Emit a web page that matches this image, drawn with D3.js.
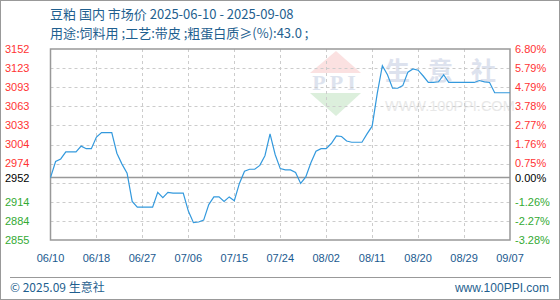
<!DOCTYPE html>
<html><head><meta charset="utf-8">
<script src="https://cdn.jsdelivr.net/npm/d3@7/dist/d3.min.js"></script>
<style>body{margin:0;background:#fff}svg{display:block}</style>
</head><body>
<script>
// ---- data ----
const titleLine1 = "豆粕 国内 市场价 2025-06-10 - 2025-09-08";
const titleLine2 = "用途:饲料用 ;工艺:带皮 ;粗蛋白质≥(%):43.0 ;";
const xLabels = ["06/10","06/18","06/27","07/06","07/15","07/24","08/02","08/11","08/20","08/29","09/07"];
const xLabelIdx = [0,9,18,27,36,45,54,63,72,81,90];
const leftTicks = [3152,3123,3093,3063,3033,3004,2974,2952,2914,2884,2855];
const rightTicks = ["6.80%","5.79%","4.79%","3.78%","2.77%","1.76%","0.75%","0.00%","-1.26%","-2.27%","-3.28%"];
const baseValue = 2952;
const prices = [
 2952,2977,2981,2992,2992,2992,3001,2997,2997,3015,
 3022,3022,3022,2990,2973,2959,2915,2906,2906,2906,
 2906,2929,2921,2929,2928,2928,2928,2900,2882,2883,
 2886,2910,2922,2922,2915,2922,2916,2943,2962,2965,
 2965,2971,2986,3020,2988,2966,2964,2964,2960,2943,
 2953,2975,2993,2997,2997,3005,3017,3016,3009,3007,
 3007,3007,3020,3032,3083,3126,3112,3091,3091,3095,
 3116,3121,3119,3110,3100,3100,3101,3112,3100,3100,
 3100,3100,3100,3100,3103,3101,3100,3084,3084,3084,3084
];

const W=560,H=300;
const L=50.5,R=510,T=49,B=240;
const svg=d3.select("body").append("svg").attr("width",W).attr("height",H);

const x=d3.scaleLinear().domain([0,prices.length-1]).range([L,R]);
const y=d3.scaleLinear().domain([2855,3152]).range([B,T]);

// frame
svg.append("rect").attr("x",0.5).attr("y",0.5).attr("width",W-1).attr("height",H-1)
  .attr("fill","none").attr("stroke","#999");

// watermark
const wm=svg.append("g");
wm.append("path").attr("d",`M310,73 L336,51 L361,73 Z`).attr("fill","#fbe1e1");
wm.append("path").attr("d",`M310,93 L361,93 L336,116 Z`).attr("fill","#dcefdc");
wm.append("text").attr("x",336).attr("y",90).attr("text-anchor","middle")
  .attr("font-family","Liberation Serif").attr("font-size",22).attr("font-weight","bold")
  .attr("fill","#dde3ee").attr("letter-spacing",4).text("PPI");
wm.append("text").attr("x",385).attr("y",80).attr("font-family","Noto Sans CJK SC")
  .attr("font-size",25).attr("font-weight","bold").attr("fill","#dde2ee").attr("letter-spacing",18).text("生意社");
wm.append("text").attr("x",385).attr("y",111).attr("font-family","Liberation Sans")
  .attr("font-size",14.5).attr("fill","#e8e8e8").text("WWW.100PPI.COM");

// grid
const gridVals=d3.range(11).map(i=>2855+i*(3152-2855)/10);
svg.append("g").selectAll("line").data(gridVals.slice(1,10)).join("line")
  .attr("x1",L).attr("x2",R).attr("y1",d=>Math.round(y(d))+0.5).attr("y2",d=>Math.round(y(d))+0.5)
  .attr("stroke","#ccc").attr("stroke-dasharray","3,3");
svg.append("g").selectAll("line").data(xLabelIdx.slice(1,-1)).join("line")
  .attr("y1",T).attr("y2",B).attr("x1",d=>Math.round(x(d))+0.5).attr("x2",d=>Math.round(x(d))+0.5)
  .attr("stroke","#ccc").attr("stroke-dasharray","3,3");

// baseline
svg.append("line").attr("x1",L).attr("x2",R).attr("y1",y(baseValue)).attr("y2",y(baseValue))
  .attr("stroke","#999").attr("stroke-width",1.5);
// plot border
svg.append("rect").attr("x",L).attr("y",T).attr("width",R-L).attr("height",B-T)
  .attr("fill","none").attr("stroke","#999").attr("stroke-width",1.5);

// line
svg.append("path").datum(prices)
  .attr("d",d3.line().x((d,i)=>x(i)).y(d=>y(d)))
  .attr("fill","none").attr("stroke","#3399dd").attr("stroke-width",1.2);

// left axis labels
const colorFor=v=>v>baseValue?"#ff3333":(v<baseValue?"#33aa33":"#000");
svg.append("g").selectAll("text").data(leftTicks).join("text")
  .attr("x",5).attr("y",d=>y(d)).attr("dy","0.36em")
  .attr("font-family","Liberation Sans").attr("font-size",11)
  .attr("fill",colorFor).text(d=>d);
// right axis labels
svg.append("g").selectAll("text").data(rightTicks).join("text")
  .attr("x",515).attr("y",(d,i)=>y(leftTicks[i])).attr("dy","0.36em")
  .attr("font-family","Liberation Sans").attr("font-size",11)
  .attr("fill",(d,i)=>colorFor(leftTicks[i])).text(d=>d);

// x labels
svg.append("g").selectAll("text").data(xLabels).join("text")
  .attr("x",(d,i)=>x(xLabelIdx[i])).attr("y",258).attr("dy","0.36em").attr("text-anchor","middle")
  .attr("font-family","Liberation Sans").attr("font-size",11).attr("fill","#1a5a8f").text(d=>d);

// titles
svg.append("text").attr("x",50).attr("y",19).attr("font-family","Noto Sans CJK SC")
  .attr("font-size",13).attr("fill","#1f5f8f").text(titleLine1);
svg.append("text").attr("x",50).attr("y",38).attr("font-family","Noto Sans CJK SC")
  .attr("font-size",13).attr("fill","#1f5f8f").text(titleLine2);

// footer
svg.append("line").attr("x1",10).attr("x2",551).attr("y1",277.5).attr("y2",277.5).attr("stroke","#999");
svg.append("text").attr("x",10).attr("y",288).attr("dy","0.36em").attr("font-family","Noto Sans CJK SC")
  .attr("font-size",12).attr("fill","#1f5f8f").text("© 2025.09 生意社");
svg.append("text").attr("x",549).attr("y",288).attr("dy","0.36em").attr("text-anchor","end")
  .attr("font-family","Liberation Sans").attr("font-size",12).attr("fill","#1f5f8f").text("www.100PPI.com");
</script>
</body></html>
